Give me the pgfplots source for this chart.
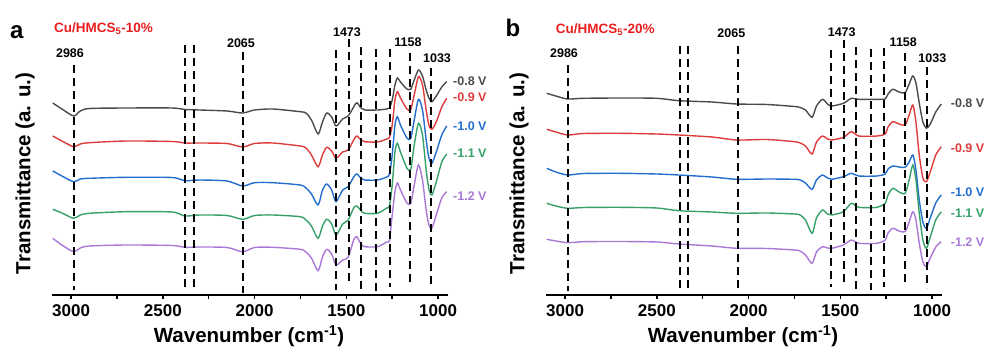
\documentclass[border=0pt]{standalone}
\usepackage{pgfplots}
\pgfplotsset{compat=1.18}
\usepackage{pgfplotstable}
\usepackage{fontspec}
\setmainfont{Liberation Sans}

\definecolor{cg}{RGB}{75,75,75}
\definecolor{cr}{RGB}{220,60,60}
\definecolor{cb}{RGB}{35,110,205}
\definecolor{cgr}{RGB}{55,160,105}
\definecolor{cp}{RGB}{170,120,215}
\definecolor{tred}{RGB}{235,30,30}

% panel a: wavenumber and vertical position (px from top) of each trace
\pgfplotstableread{
w    g     r     b     gr    p
3100 103   136   171   209.3 238.3
3050 109   141   176   213   245
2986 116   146.7 181.7 218.3 251.7
2950 111   144   179   215   248
2900 108.5 142.7 178.3 213.3 246
2700 108   141   177.3 211.7 245
2450 108   141.5 177.5 212   245.5
2380 109.5 143   180.7 216   247.3
2300 110   143   180   215   247
2150 111   143.5 181   215.5 247.5
2065 113   147   186   219.3 251.7
2000 110   143.5 182.7 215.5 247.5
1900 109   143   182.7 215   247.3
1752 111.7 146   185   216.7 249.3
1720 113   148   188   220   252
1690 120   155   194   226   258
1654 134   166.7 205   238.3 270.7
1630 122   155   190   226   257
1607 113   147.3 184   219.3 249.3
1580 117   151   190   224   254
1556 126   158.3 201.7 235   265
1520 119   152   190   224   260
1490 116   150   186.7 220   257.3
1460 107   140   177   208   240
1443 102.7 136   174   206   236.7
1420 108   140   178.3 210.7 244
1400 110   141.7 180   213.3 246.7
1330 110   142   180   213.3 246.7
1280 109   139   177   208   242
1265 108   137.3 174   206   240
1250 100   125   155   185   215
1235 85    100   125   152   192
1222 78    91.7  116.7 143.3 183
1205 82    98    125   152   190
1170 89    109   138   168   203
1149 89    109.3 138.3 169.3 203.3
1130 80    95    120   145   185
1107 70    76.7  99.3  123.3 165
1085 76    85    110   135   180
1065 90    110   140   170   210
1050 98    125   158   189   225
1034 101.7 129.3 163.3 195   228.3
1010 96    122   152   182   215
980  87    107   135   162   198
953  81.7  98.3  126   154   191.7
}\dataA

% panel b
\pgfplotstableread{
w    g     r     b     gr    p
3100 93.3  129.3 168.3 203.3 239.3
3050 96    132   172   206   241
2986 99    135   175   208.3 242.7
2900 98.3  133.5 173.5 207.5 241.7
2700 98    133.3 173.3 207.3 241.5
2500 98.3  134   174   208   242
2380 100.7 135   175   210.7 244
2200 102   137   177   212   246
2065 104   140   179.3 213.3 248.3
1900 104.5 139.5 179   213   248.5
1750 106.5 141.7 179.3 214   250
1719 107.5 143   180   215   251
1690 110   146   183   220   255
1654 117.3 154   189.3 233.3 263.3
1630 106   142   180   218   252
1597 99.3  136   175   210   246.7
1570 104   139   178   214   248
1547 106   140   179.3 215   248.3
1483 103.3 137.3 176.7 211.7 245
1440 98.3  131.7 173.3 203.3 240
1400 99.3  136   176   207.3 243.3
1300 99.3  136   176   207.3 243.3
1256 99    134   174   203.3 240
1240 94    127   169   195   233
1214 89.3  121.7 166   188.3 228.3
1180 92    124   167   192   231
1147 92.7  125   167.3 193.3 231.7
1125 84    115   162   180   222
1105 76    105   155   165   211.7
1088 83    122   170   180   220
1070 103   155   200   213   243
1050 122   178   222   240   262
1031 128.3 181.7 228.3 248.3 266.7
1010 124   172   218   237   258
980  112   155   203   220   247
950  104   146.7 195   211.7 241.7
}\dataB

\pgfplotsset{
  ftir/.style={
    scale only axis, width=396pt, height=260pt, anchor=south west,
    xmin=946, xmax=3104, x dir=reverse, ymin=-295, ymax=-35,
    axis x line=bottom, axis y line=none,
    axis line style={-, line width=1.8pt},
    every outer x axis line/.append style={-},
    xtick={1000,1500,2000,2500,3000}, minor xtick={1250,1750,2250,2750},
    tick align=outside, major tick length=3.5pt, minor tick length=3.5pt,
    tick style={line width=1.5pt, black},
    xticklabel style={font=\fontsize{17}{19}\selectfont\bfseries, yshift=-2.5pt},
    /pgf/number format/assume math mode=true,
    /pgf/number format/1000 sep={},
    clip=false,
  },
  tr/.style={line width=1.4pt, smooth, tension=0.45, no markers},
  dl/.style={black, line width=2pt, dash pattern=on 8pt off 5pt, forget plot},
}

\newcommand{\dl}[3]{\addplot[dl] coordinates {(#1,-#2) (#1,-#3)};}
\newcommand{\traces}[1]{%
  \addplot[tr, cg]  table[x=w, y expr=-\thisrow{g}]  {#1};
  \addplot[tr, cr]  table[x=w, y expr=-\thisrow{r}]  {#1};
  \addplot[tr, cb]  table[x=w, y expr=-\thisrow{b}]  {#1};
  \addplot[tr, cgr] table[x=w, y expr=-\thisrow{gr}] {#1};
  \addplot[tr, cp]  table[x=w, y expr=-\thisrow{p}]  {#1};
}

\begin{document}
\begin{tikzpicture}[x=1pt,y=1pt]
\path[use as bounding box] (0,0) rectangle (994,354);

\begin{axis}[ftir, at={(52pt,59pt)}]
\traces{\dataA}
\dl{2986}{65}{290}
\dl{2380}{45}{288}
\dl{2330}{45}{288}
\dl{2065}{52}{293}
\dl{1556}{50}{290}
\dl{1485}{39}{282}
\dl{1419}{47}{293}
\dl{1337}{49}{292}
\dl{1263}{49}{287}
\dl{1152}{53}{283}
\dl{1038}{68}{288}
\end{axis}

\begin{axis}[ftir, at={(546pt,59pt)}]
\traces{\dataB}
\dl{2986}{65}{291}
\dl{2374}{46}{288}
\dl{2330}{46}{288}
\dl{2060}{46}{288}
\dl{1551}{50}{287}
\dl{1479}{40}{282}
\dl{1415}{47}{292}
\dl{1333}{49}{290}
\dl{1262}{48}{287}
\dl{1150}{53}{283}
\dl{1029}{67}{288}
\end{axis}

% panel letters and titles
\node[anchor=base west, inner sep=0, font=\fontsize{24}{26}\selectfont\bfseries] at (10,315) {a};
\node[anchor=base west, inner sep=0, font=\fontsize{24}{26}\selectfont\bfseries] at (505.5,317) {b};
\node[anchor=base west, inner sep=0, text=tred, font=\fontsize{13.5}{15}\selectfont\bfseries] at (54,321.3) {Cu/HMCS\textsubscript{5}-10\%};
\node[anchor=base west, inner sep=0, text=tred, font=\fontsize{13.5}{15}\selectfont\bfseries] at (555.7,320.7) {Cu/HMCS\textsubscript{5}-20\%};

% axis titles
\foreach \dx in {0,494}{
  \node[rotate=90, font=\fontsize{20.5}{22}\selectfont\bfseries] at (25+\dx,180.5) {Transmittance (a. u.)};
  \node[font=\fontsize{20.5}{22}\selectfont\bfseries] at (249+\dx,18) {Wavenumber (cm\textsuperscript{-1})};
}

% peak labels
\begin{scope}[every node/.style={font=\fontsize{12.5}{14}\selectfont\bfseries, inner sep=0}]
\node at (70,301) {2986};
\node at (241,311) {2065};
\node at (347,322) {1473};
\node at (408,312) {1158};
\node at (437,296) {1033};
\node at (564,301) {2986};
\node at (731.3,321) {2065};
\node at (841.7,322) {1473};
\node at (903.3,312) {1158};
\node at (932.3,296) {1033};
\end{scope}

% voltage labels
\begin{scope}[every node/.style={font=\fontsize{12.5}{14}\selectfont\bfseries, inner sep=0, anchor=west}]
\node[text=cg]  at (453,273.3) {-0.8 V};
\node[text=cr]  at (453,257)   {-0.9 V};
\node[text=cb]  at (453,228)   {-1.0 V};
\node[text=cgr] at (453,201)   {-1.1 V};
\node[text=cp]  at (453,158)   {-1.2 V};
\node[text=cg]  at (950.7,251)   {-0.8 V};
\node[text=cr]  at (950.7,206)   {-0.9 V};
\node[text=cb]  at (950.7,162.3) {-1.0 V};
\node[text=cgr] at (950.7,140.7) {-1.1 V};
\node[text=cp]  at (950.7,112.3) {-1.2 V};
\end{scope}
\end{tikzpicture}
\end{document}
